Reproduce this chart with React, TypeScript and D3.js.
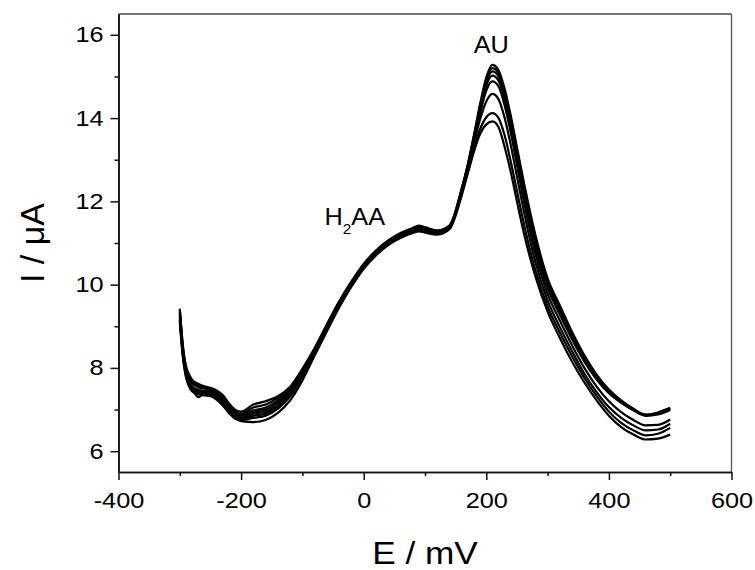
import React, { useRef, useEffect } from "react";
import * as d3 from "d3";

// potential grid (mV) shared by all scans
const potentials = [
    -300, -295, -290, -285, -280, -270, -260, -250, -240, -230, -220, -210, -200,
    -180, -160, -140, -120, -100,
    -80, -60, -40, -20, 0, 20, 40, 60, 80, 90, 100,
    120, 140, 160, 170, 180, 190, 200, 210, 220, 230, 240, 250, 260,
    280, 300, 320, 340, 360, 380, 400, 420, 440, 460, 480, 500,
];

// current (uA), one array per scan
const scan1 = [
    9.42, 8.55, 8.05, 7.85, 7.72, 7.62, 7.56, 7.52, 7.46, 7.35, 7.15, 7.00, 6.95,
    7.12, 7.20, 7.32, 7.55, 7.98,
    8.48, 9.05, 9.60, 10.08, 10.50, 10.82, 11.06, 11.24, 11.36, 11.42, 11.38,
    11.30, 11.42, 12.32, 12.90, 13.60, 14.35, 14.98, 15.28, 15.15, 14.70, 14.05, 13.30, 12.55,
    11.20, 10.15, 9.50, 8.86, 8.30, 7.84, 7.48, 7.22, 7.02, 6.88, 6.93, 7.04,
];
const scan2 = [
    9.40, 8.50, 8.00, 7.80, 7.68, 7.58, 7.53, 7.49, 7.42, 7.30, 7.10, 6.95, 6.90,
    7.05, 7.12, 7.28, 7.52, 7.95,
    8.46, 9.03, 9.58, 10.06, 10.48, 10.80, 11.05, 11.22, 11.35, 11.40, 11.36,
    11.30, 11.42, 12.30, 12.88, 13.58, 14.30, 14.92, 15.20, 15.08, 14.62, 13.98, 13.22, 12.45,
    11.10, 10.08, 9.42, 8.80, 8.25, 7.80, 7.45, 7.20, 7.00, 6.87, 6.92, 7.03,
];
const scan3 = [
    9.35, 8.45, 7.95, 7.75, 7.63, 7.54, 7.50, 7.46, 7.40, 7.28, 7.05, 6.90, 6.88,
    6.98, 7.05, 7.22, 7.48, 7.92,
    8.44, 9.01, 9.56, 10.05, 10.47, 10.79, 11.04, 11.21, 11.33, 11.38, 11.34,
    11.28, 11.40, 12.28, 12.86, 13.55, 14.26, 14.86, 15.12, 15.00, 14.55, 13.90, 13.12, 12.35,
    11.00, 10.00, 9.35, 8.74, 8.20, 7.76, 7.42, 7.18, 6.99, 6.86, 6.90, 7.01,
];
const scan4 = [
    9.30, 8.40, 7.90, 7.66, 7.52, 7.30, 7.40, 7.44, 7.38, 7.25, 7.02, 6.85, 6.85,
    6.95, 7.00, 7.18, 7.45, 7.90,
    8.42, 8.99, 9.55, 10.04, 10.46, 10.78, 11.03, 11.20, 11.32, 11.36, 11.33,
    11.28, 11.40, 12.26, 12.84, 13.52, 14.20, 14.78, 15.02, 14.90, 14.45, 13.80, 13.02, 12.25,
    10.90, 9.92, 9.28, 8.68, 8.15, 7.72, 7.39, 7.16, 6.98, 6.85, 6.88, 6.99,
];
const scan5 = [
    9.25, 8.38, 7.88, 7.68, 7.56, 7.48, 7.45, 7.42, 7.34, 7.20, 7.00, 6.82, 6.80,
    6.90, 6.95, 7.12, 7.40, 7.85,
    8.40, 8.97, 9.53, 10.02, 10.45, 10.77, 11.02, 11.18, 11.30, 11.34, 11.31,
    11.26, 11.38, 12.25, 12.82, 13.48, 14.12, 14.66, 14.88, 14.76, 14.30, 13.65, 12.88, 12.10,
    10.75, 9.78, 9.14, 8.54, 8.00, 7.55, 7.20, 6.94, 6.75, 6.62, 6.63, 6.76,
];
const scan6 = [
    9.20, 8.35, 7.85, 7.64, 7.52, 7.44, 7.42, 7.40, 7.32, 7.18, 6.98, 6.80, 6.78,
    6.85, 6.90, 7.08, 7.38, 7.82,
    8.38, 8.95, 9.51, 10.00, 10.43, 10.75, 11.00, 11.16, 11.28, 11.32, 11.29,
    11.25, 11.38, 12.22, 12.78, 13.40, 13.98, 14.40, 14.58, 14.45, 14.00, 13.35, 12.60, 11.85,
    10.55, 9.62, 8.98, 8.40, 7.86, 7.42, 7.06, 6.80, 6.62, 6.50, 6.52, 6.66,
];
const scan7 = [
    9.15, 8.30, 7.82, 7.60, 7.48, 7.40, 7.38, 7.36, 7.28, 7.15, 6.95, 6.78, 6.75,
    6.80, 6.85, 7.02, 7.32, 7.78,
    8.35, 8.92, 9.48, 9.98, 10.41, 10.73, 10.98, 11.14, 11.26, 11.30, 11.27,
    11.22, 11.35, 12.18, 12.72, 13.28, 13.74, 14.02, 14.12, 14.00, 13.58, 12.95, 12.25, 11.55,
    10.35, 9.48, 8.85, 8.28, 7.76, 7.32, 6.95, 6.68, 6.50, 6.38, 6.42, 6.56,
];
const scan8 = [
    9.10, 8.25, 7.78, 7.56, 7.44, 7.36, 7.34, 7.32, 7.24, 7.10, 6.92, 6.80, 6.72,
    6.70, 6.75, 6.92, 7.22, 7.70,
    8.30, 8.88, 9.45, 9.95, 10.38, 10.70, 10.95, 11.12, 11.24, 11.28, 11.25,
    11.20, 11.33, 12.15, 12.68, 13.20, 13.62, 13.85, 13.92, 13.78, 13.30, 12.70, 12.00, 11.32,
    10.20, 9.35, 8.72, 8.15, 7.65, 7.22, 6.85, 6.58, 6.40, 6.28, 6.30, 6.40,
];
const scans = [scan1, scan2, scan3, scan4, scan5, scan6, scan7, scan8];

const xTicks = [-400, -200, 0, 200, 400, 600];
const xMinorTicks = [-300, -100, 100, 300, 500];
const yTicks = [6, 8, 10, 12, 14, 16];
const yMinorTicks = [7, 9, 11, 13, 15];

const xTitle = "E / mV";
const yTitle = "I / \u03bcA";
const peakLabel = "AU";

const font = "'Liberation Sans', Arial, sans-serif";

const App = () => {
    const svgRef = useRef(null);
    const width = 755;
    const height = 570;

    useEffect(() => {
        const svg = d3.select(svgRef.current);
        svg.selectAll("*").remove();

        const xScale = d3.scaleLinear().domain([-400, 600]).range([118.5, 731.5]);
        const yScale = d3.scaleLinear().domain([5.5, 16.5]).range([472, 14]);
        const x0 = xScale.range()[0], x1 = xScale.range()[1];
        const yb = yScale.range()[0], yt = yScale.range()[1];

        // top / right frame
        svg.append("line")
            .attr("x1", x0).attr("x2", x1).attr("y1", yt).attr("y2", yt)
            .attr("stroke", "#444").attr("stroke-width", 1.3);
        svg.append("line")
            .attr("x1", x1).attr("x2", x1).attr("y1", yt).attr("y2", yb)
            .attr("stroke", "#555").attr("stroke-width", 1.3);

        // minor ticks
        svg.append("g")
            .attr("transform", `translate(0, ${yb})`)
            .call(d3.axisBottom(xScale).tickValues(xMinorTicks).tickSize(4).tickSizeOuter(0).tickFormat(() => ""));
        svg.append("g")
            .attr("transform", `translate(${x0}, 0)`)
            .call(d3.axisLeft(yScale).tickValues(yMinorTicks).tickSize(4).tickSizeOuter(0).tickFormat(() => ""));

        // major axes (plain hyphen for negatives, like the original)
        const xAxis = svg.append("g")
            .attr("transform", `translate(0, ${yb})`)
            .call(d3.axisBottom(xScale).tickValues(xTicks).tickSize(8).tickSizeOuter(0).tickPadding(12)
                .tickFormat(d => String(d)));
        const yAxis = svg.append("g")
            .attr("transform", `translate(${x0}, 0)`)
            .call(d3.axisLeft(yScale).tickValues(yTicks).tickSize(8).tickSizeOuter(0).tickPadding(5)
                .tickFormat(d => String(d)));

        svg.selectAll(".domain").attr("stroke", "#111").attr("stroke-width", 1.5);
        svg.selectAll(".tick line").attr("stroke", "#111").attr("stroke-width", 1.5);
        [xAxis, yAxis].forEach(ax => {
            ax.selectAll("text")
                .attr("font-family", font)
                .attr("font-size", 22)
                .attr("fill", "#000")
                .attr("transform", "scale(1.15,1)");
        });

        // scans
        const line = d3.line()
            .x((d, i) => xScale(potentials[i]))
            .y(d => yScale(d))
            .curve(d3.curveMonotoneX);

        svg.append("g")
            .selectAll("path")
            .data(scans)
            .join("path")
            .attr("d", d => line(d))
            .attr("fill", "none")
            .attr("stroke", "#000")
            .attr("stroke-width", 2.2)
            .attr("stroke-linejoin", "round");

        // annotations
        svg.append("g")
            .attr("transform", `translate(${xScale(208)}, 53) scale(1.1,1)`)
            .append("text")
            .attr("text-anchor", "middle")
            .attr("font-family", font)
            .attr("font-size", 23)
            .text(peakLabel);

        const h2aa = svg.append("g")
            .attr("transform", `translate(${xScale(-64)}, 225) scale(1.1,1)`)
            .append("text")
            .attr("font-family", font)
            .attr("font-size", 23);
        h2aa.append("tspan").text("H");
        h2aa.append("tspan").attr("font-size", 14).attr("dy", 9).text("2");
        h2aa.append("tspan").attr("dy", -9).text("AA");

        // axis titles
        svg.append("g")
            .attr("transform", `translate(${(x0 + x1) / 2}, 564) scale(1.1,1)`)
            .append("text")
            .attr("text-anchor", "middle")
            .attr("font-family", font)
            .attr("font-size", 32)
            .text(xTitle);

        svg.append("g")
            .attr("transform", `translate(44, ${(yb + yt) / 2}) rotate(-90)`)
            .append("text")
            .attr("text-anchor", "middle")
            .attr("font-family", font)
            .attr("font-size", 34)
            .text(yTitle);
    }, []);

    return (
        <svg
            ref={svgRef}
            width={width}
            height={height}
            style={{ position: "absolute", left: 0, top: 0, background: "#fff" }}
        />
    );
};

export default App;
